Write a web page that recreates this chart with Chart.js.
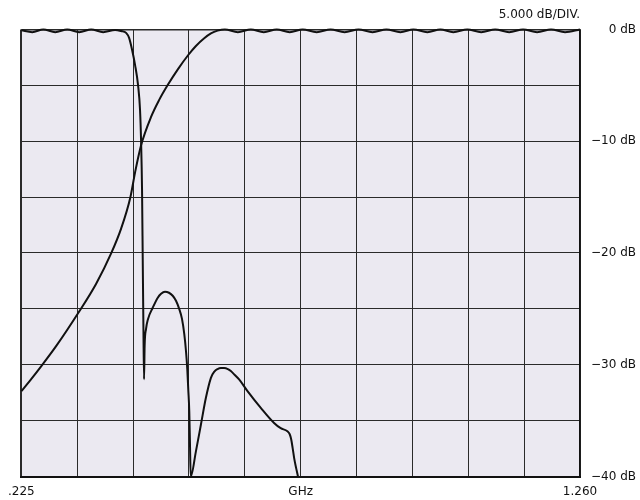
<!DOCTYPE html>
<html>
<head>
<meta charset="utf-8">
<style>
  html, body { margin: 0; padding: 0; background: #fff; }
  #wrap { width: 640px; height: 500px; }
</style>
</head>
<body>
<div id="wrap"><canvas id="chart"></canvas></div>
<script src="https://cdn.jsdelivr.net/npm/chart.js@4.4.1/dist/chart.umd.min.js"></script>
<script>
(function () {
    "use strict";

    // frequency axis (GHz) and level axis (dB)
    const xTicks = [0.225, 0.3285, 0.432, 0.5355, 0.639, 0.7425, 0.846, 0.9495, 1.053, 1.1565, 1.26];
    const xTickLabels = [".225", "", "", "", "", "GHz", "", "", "", "", "1.260"];
    const yTicks = [-40, -35, -30, -25, -20, -15, -10, -5, 0];
    const yTickLabels = ["\u221240 dB", "", "\u221230 dB", "", "\u221220 dB", "", "\u221210 dB", "", "0 dB"];

    // low-pass response (passband ripple, steep skirt, stopband lobes)
    const lowpassGHz = [
        0.2250, 0.2453, 0.2657, 0.2878, 0.3100, 0.3322, 0.3544, 0.3766, 0.3987, 0.4098,
        0.4191, 0.4246, 0.4302, 0.4357, 0.4412, 0.4449, 0.4468, 0.4486, 0.4499, 0.4512,
        0.4523, 0.4534, 0.4560, 0.4597, 0.4684, 0.4777, 0.4838, 0.4911, 0.4985, 0.5054,
        0.5115, 0.5176, 0.5226, 0.5268, 0.5300, 0.5324, 0.5342, 0.5361, 0.5373, 0.5388,
        0.5484, 0.5577, 0.5669, 0.5762, 0.5826, 0.5885, 0.5946, 0.6007, 0.6076, 0.6131,
        0.6205, 0.6284, 0.6440, 0.6686, 0.6932, 0.7055, 0.7179, 0.7222, 0.7249, 0.7277,
        0.7305, 0.7342, 0.7375,
    ];
    const lowpassDb = [
        -0.08, -0.25, 0.00, -0.25, 0.00, -0.25, 0.00, -0.25, -0.05, -0.15,
        -0.31, -0.76, -1.84, -3.19, -4.98, -7.23, -9.98, -14.4, -20.7, -27.0,
        -31.3, -28.3, -26.8, -25.9, -24.9, -24.0, -23.65, -23.47, -23.56, -23.83,
        -24.28, -25.03, -25.9, -27.24, -28.77, -30.39, -32.18, -34.16, -36.85, -40,
        -37.75, -35.35, -32.96, -31.17, -30.61, -30.39, -30.30, -30.30, -30.39, -30.57,
        -30.92, -31.31, -32.36, -33.86, -35.21, -35.68, -35.95, -36.22, -36.67, -37.48,
        -38.38, -39.27, -40,
    ];

    // high-pass response
    const highpassGHz = [
        0.2250, 0.2403, 0.2620, 0.2897, 0.3309, 0.3636, 0.3913, 0.4098, 0.4270, 0.4357,
        0.4468, 0.4653, 0.4801, 0.4961, 0.5152, 0.5342, 0.5484, 0.5638, 0.5762, 0.5885,
        0.6020, 0.6261, 0.6501, 0.6741, 0.6981, 0.7222, 0.7462, 0.7721, 0.7979, 0.8238,
        0.8497, 0.8756, 0.9014, 0.9273, 0.9513, 0.9772, 1.0013, 1.0253, 1.0512, 1.0770,
        1.1029, 1.1288, 1.1546, 1.1805, 1.2064, 1.2323, 1.2600,
    ];
    const highpassDb = [
        -32.36, -31.46, -30.12, -28.32, -25.33, -22.75, -20.04, -17.82, -15.01, -12.79,
        -10.37, -7.83, -6.33, -4.98, -3.55, -2.29, -1.48, -0.79, -0.36, -0.11,
        0.00, -0.25, 0.00, -0.25, 0.00, -0.25, 0.00, -0.25, 0.00, -0.25,
        0.00, -0.25, 0.00, -0.25, 0.00, -0.25, 0.00, -0.25, 0.00, -0.25,
        0.00, -0.25, 0.00, -0.25, 0.00, -0.25, 0.00,
    ];

    const toPoints = (xs, ys) => xs.map((x, i) => ({ x: x, y: ys[i] }));

    // light screen colour behind the grid
    const plotBackground = {
        id: "plotBackground",
        beforeDraw(chart) {
            const a = chart.chartArea;
            const ctx = chart.ctx;
            ctx.save();
            ctx.fillStyle = "#ebe9f1";
            ctx.fillRect(a.left, a.top, a.right - a.left, a.bottom - a.top);
            ctx.restore();
        },
    };

    const font = { family: "'DejaVu Sans', sans-serif", size: 12 };
    const lineStyle = {
        borderColor: "#111",
        borderWidth: 2,
        pointRadius: 0,
        cubicInterpolationMode: "monotone",
        clip: false,
    };

    new Chart(document.getElementById("chart"), {
        type: "line",
        data: {
            datasets: [
                Object.assign({ label: "Low pass", data: toPoints(lowpassGHz, lowpassDb) }, lineStyle),
                Object.assign({ label: "High pass", data: toPoints(highpassGHz, highpassDb) }, lineStyle),
            ],
        },
        options: {
            responsive: true,
            maintainAspectRatio: false,
            animation: false,
            devicePixelRatio: 1,
            layout: { padding: { left: 20, top: 0, right: 4, bottom: 0 } },
            plugins: {
                legend: { display: false },
                tooltip: { enabled: false },
                title: {
                    display: true,
                    text: "5.000 dB/DIV.",
                    align: "end",
                    fullSize: false,
                    color: "#111",
                    font: { family: font.family, size: 12, weight: "normal" },
                    padding: { top: 8, bottom: 7 },
                },
            },
            scales: {
                x: {
                    type: "linear",
                    min: 0.225,
                    max: 1.26,
                    afterBuildTicks: (axis) => {
                        axis.ticks = xTicks.map((v) => ({ value: v }));
                    },
                    afterFit: (axis) => {
                        axis.height = 23.5;
                    },
                    ticks: {
                        autoSkip: false,
                        maxRotation: 0,
                        padding: 8,
                        color: "#111",
                        font: font,
                        callback: (v, i) => xTickLabels[i],
                    },
                    grid: {
                        drawTicks: false,
                        color: "#2a2a2a",
                        lineWidth: (c) => (c.index === 0 ? 2 : 1),
                    },
                    border: { display: true, color: "#111", width: 2 },
                },
                y: {
                    type: "linear",
                    position: "right",
                    min: -40,
                    max: 0,
                    afterBuildTicks: (axis) => {
                        axis.ticks = yTicks.map((v) => ({ value: v }));
                    },
                    afterFit: (axis) => {
                        axis.width = 56;
                    },
                    ticks: {
                        autoSkip: false,
                        crossAlign: "far",
                        padding: 4,
                        color: "#111",
                        font: font,
                        callback: (v, i) => yTickLabels[i],
                    },
                    grid: {
                        drawTicks: false,
                        color: "#2a2a2a",
                        lineWidth: (c) => (c.index === yTicks.length - 1 ? 1.5 : 1),
                    },
                    border: { display: true, color: "#111", width: 1.5 },
                },
            },
        },
        plugins: [plotBackground],
    });
})();
</script>
</body>
</html>
